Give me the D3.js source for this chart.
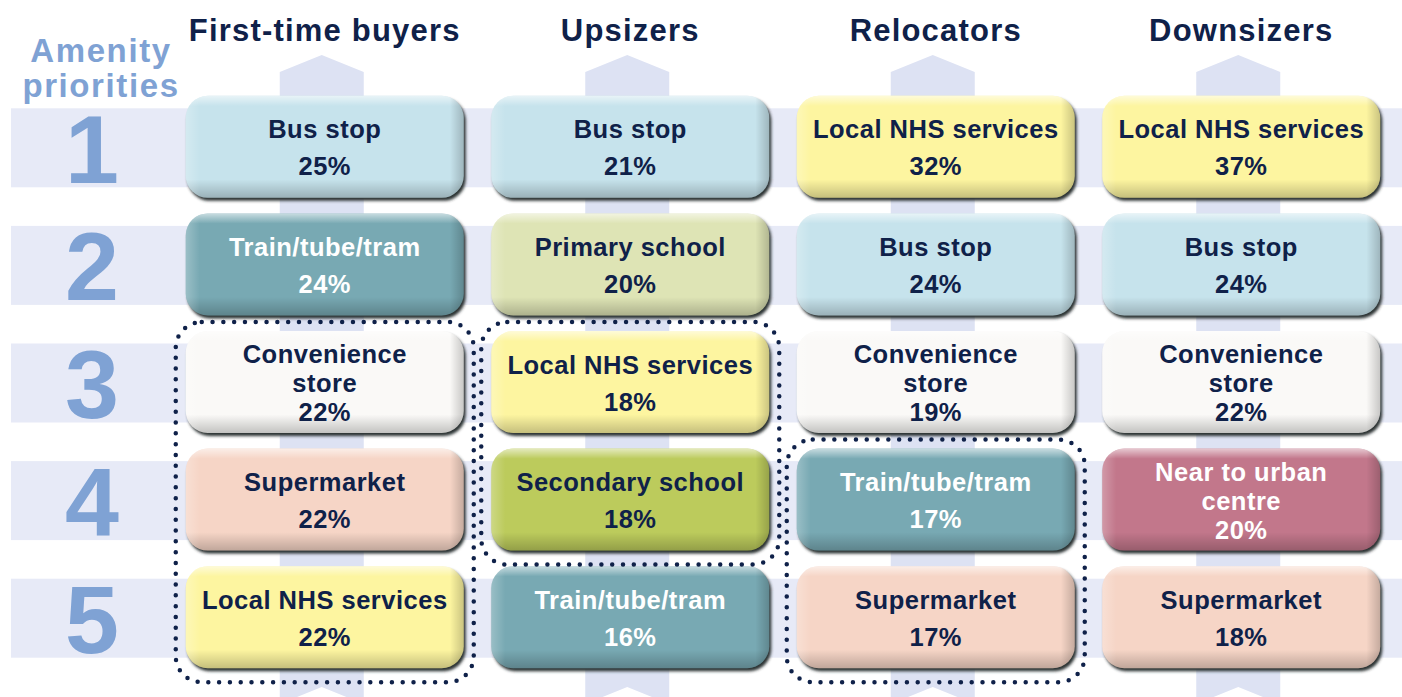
<!DOCTYPE html>
<html>
<head>
<meta charset="utf-8">
<script src="https://cdn.jsdelivr.net/npm/d3@7"></script>
<style>
  html, body { margin: 0; padding: 0; background: #fff; }
  svg { display: block; font-family: "Liberation Sans", Arial, Helvetica, sans-serif; font-weight: bold; }
</style>
</head>
<body>
<svg id="chart"></svg>
<script>
var w = 1402;
var h = 697;

// buyer segments (columns) and priority ranks (rows)
const segments = ["First-time buyers", "Upsizers", "Relocators", "Downsizers"];
const ranks = [1, 2, 3, 4, 5];

// top five amenities per segment, "\n" marks a line break in the box
const firstTimeAmenities = ["Bus stop", "Train/tube/tram", "Convenience\nstore", "Supermarket", "Local NHS services"];
const firstTimeShares = [25, 24, 22, 22, 22];
const upsizerAmenities = ["Bus stop", "Primary school", "Local NHS services", "Secondary school", "Train/tube/tram"];
const upsizerShares = [21, 20, 18, 18, 16];
const relocatorAmenities = ["Local NHS services", "Bus stop", "Convenience\nstore", "Train/tube/tram", "Supermarket"];
const relocatorShares = [32, 24, 19, 17, 17];
const downsizerAmenities = ["Local NHS services", "Bus stop", "Convenience\nstore", "Near to urban\ncentre", "Supermarket"];
const downsizerShares = [37, 24, 22, 20, 18];

// ranks circled with a dotted outline in each column
const circledRanks = [[3, 5], [3, 4], [4, 5], null];

const amenityKinds = ["Bus stop", "Train/tube/tram", "Convenience\nstore", "Supermarket", "Local NHS services",
  "Primary school", "Secondary school", "Near to urban\ncentre"];
const amenityFills = ["#c6e3ec", "#78a9b3", "#faf9f7", "#f6d5c6", "#fdf5a0", "#dee4b5", "#bccb5c", "#c2778b"];
const whiteText = ["Train/tube/tram", "Near to urban\ncentre"];

const amenities = [firstTimeAmenities, upsizerAmenities, relocatorAmenities, downsizerAmenities];
const shares = [firstTimeShares, upsizerShares, relocatorShares, downsizerShares];

var cells = [];
segments.forEach((s, i) => {
  ranks.forEach((r, j) => {
    cells.push({ segment: s, rank: r, amenity: amenities[i][j], share: shares[i][j] });
  });
});

var navy = "#0f2149";
var soft = "#7fa2d4";

var svg = d3.select("#chart").attr("width", w).attr("height", h);

var x = d3.scaleBand().domain(segments).range([172, 1394]);
var y = d3.scaleBand().domain(ranks).range([89, 677]);
var colour = d3.scaleOrdinal().domain(amenityKinds).range(amenityFills);

var boxW = 278, boxH = 102, barW = 84;

var defs = svg.append("defs");
defs.append("filter").attr("id", "blur")
  .attr("x", "-10%").attr("y", "-10%").attr("width", "120%").attr("height", "130%")
  .append("feGaussianBlur").attr("stdDeviation", 1.4);

var shine = defs.append("linearGradient").attr("id", "shine")
  .attr("x1", 0).attr("y1", 0).attr("x2", 0).attr("y2", 1);
shine.append("stop").attr("offset", "0%").attr("stop-color", "#fff").attr("stop-opacity", 0.6);
shine.append("stop").attr("offset", "10%").attr("stop-color", "#fff").attr("stop-opacity", 0);
shine.append("stop").attr("offset", "82%").attr("stop-color", "#000").attr("stop-opacity", 0);
shine.append("stop").attr("offset", "100%").attr("stop-color", "#000").attr("stop-opacity", 0.22);

var side = defs.append("linearGradient").attr("id", "side")
  .attr("x1", 0).attr("y1", 0).attr("x2", 1).attr("y2", 0);
side.append("stop").attr("offset", "0%").attr("stop-color", "#fff").attr("stop-opacity", 0.25);
side.append("stop").attr("offset", "5%").attr("stop-color", "#fff").attr("stop-opacity", 0);
side.append("stop").attr("offset", "95%").attr("stop-color", "#000").attr("stop-opacity", 0);
side.append("stop").attr("offset", "100%").attr("stop-color", "#000").attr("stop-opacity", 0.2);

// horizontal rank bands
svg.selectAll(".band")
  .data(ranks)
  .enter().append("rect")
  .attr("class", "band")
  .attr("x", 11)
  .attr("width", w - 11)
  .attr("y", d => y(d) + y.bandwidth() / 2 - 39.5)
  .attr("height", 79)
  .attr("fill", "#e7eaf7");

// vertical arrows behind each column
svg.selectAll(".arrow")
  .data(segments)
  .enter().append("path")
  .attr("class", "arrow")
  .attr("fill", "#dde2f3")
  .attr("d", d => {
    var cx = x(d) + x.bandwidth() / 2 - 3;
    var l = cx - barW / 2, r = cx + barW / 2;
    return "M" + l + ",72 L" + cx + ",55 L" + r + ",72 L" + r + ",704 L" + cx + ",687 L" + l + ",704 Z";
  });

// headings
svg.selectAll(".head")
  .data(segments)
  .enter().append("text")
  .attr("class", "head")
  .attr("x", d => x(d) + x.bandwidth() / 2)
  .attr("y", 41)
  .attr("text-anchor", "middle")
  .attr("font-size", 31)
  .attr("letter-spacing", 1.2)
  .attr("fill", navy)
  .text(d => d);

svg.append("text")
  .attr("x", 101).attr("y", 62)
  .attr("text-anchor", "middle")
  .attr("font-size", 33)
  .attr("letter-spacing", 1.6)
  .attr("fill", soft)
  .text("Amenity");
svg.append("text")
  .attr("x", 101).attr("y", 97)
  .attr("text-anchor", "middle")
  .attr("font-size", 33)
  .attr("letter-spacing", 1.6)
  .attr("fill", soft)
  .text("priorities");

svg.selectAll(".rank")
  .data(ranks)
  .enter().append("text")
  .attr("class", "rank")
  .attr("x", 92)
  .attr("y", d => y(d) + y.bandwidth() / 2 + 35)
  .attr("text-anchor", "middle")
  .attr("font-size", 97)
  .attr("fill", soft)
  .text(d => d);

// amenity boxes
var box = svg.selectAll(".box")
  .data(cells)
  .enter().append("g")
  .attr("class", "box")
  .attr("transform", d => "translate(" + (x(d.segment) + x.bandwidth() / 2) + "," + (y(d.rank) + y.bandwidth() / 2 - 1) + ")");

box.append("rect")
  .attr("x", -boxW / 2 + 2).attr("y", -boxH / 2 + 3)
  .attr("width", boxW).attr("height", boxH)
  .attr("rx", 22)
  .attr("fill", "#2b3133")
  .attr("filter", "url(#blur)");

box.append("rect")
  .attr("x", -boxW / 2).attr("y", -boxH / 2)
  .attr("width", boxW).attr("height", boxH)
  .attr("rx", 22)
  .attr("fill", d => colour(d.amenity));

box.append("rect")
  .attr("x", -boxW / 2).attr("y", -boxH / 2)
  .attr("width", boxW).attr("height", boxH)
  .attr("rx", 22)
  .attr("fill", "url(#shine)");

box.append("rect")
  .attr("x", -boxW / 2).attr("y", -boxH / 2)
  .attr("width", boxW).attr("height", boxH)
  .attr("rx", 22)
  .attr("fill", "url(#side)");

box.each(function (d) {
  var lines = d.amenity.split("\n").concat([d.share + "%"]);
  var step = lines.length > 2 ? 29 : 37;
  var top = -(lines.length - 1) * step / 2;
  d3.select(this).selectAll("text")
    .data(lines)
    .enter().append("text")
    .attr("x", 0)
    .attr("y", (t, i) => top + i * step + 10)
    .attr("text-anchor", "middle")
    .attr("font-size", 25.5)
    .attr("letter-spacing", 0.5)
    .attr("fill", whiteText.includes(d.amenity) ? "#fff" : navy)
    .text(t => t);
});

// dotted outlines around the circled ranks
svg.selectAll(".ring")
  .data(segments.map((s, i) => ({ segment: s, span: circledRanks[i] })).filter(d => d.span))
  .enter().append("rect")
  .attr("class", "ring")
  .attr("x", d => x(d.segment) + x.bandwidth() / 2 - 149)
  .attr("width", 298)
  .attr("y", d => y(d.span[0]) + y.bandwidth() / 2 - 61)
  .attr("height", d => y(d.span[1]) - y(d.span[0]) + 125)
  .attr("rx", 26)
  .attr("fill", "none")
  .attr("stroke", navy)
  .attr("stroke-width", 4.5)
  .attr("stroke-linecap", "round")
  .attr("stroke-dasharray", "0,10.8");
</script>
</body>
</html>
